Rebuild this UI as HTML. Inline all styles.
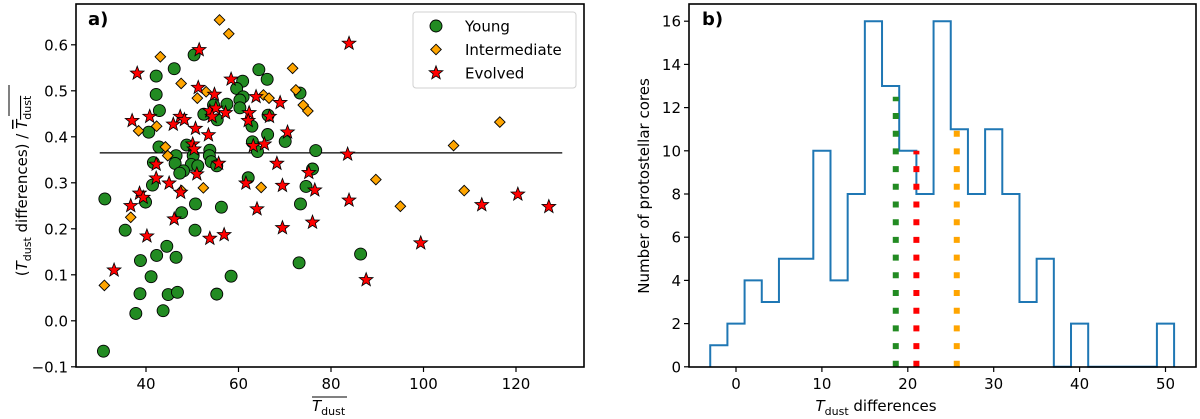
<!DOCTYPE html>
<html><head><meta charset="utf-8">
<style>
html,body{margin:0;padding:0;background:#fff;}
svg{display:block;font-family:"DejaVu Sans","Liberation Sans",sans-serif;}
</style></head>
<body>
<svg id="chart" width="1200" height="419" viewBox="0 0 1200 419" xmlns="http://www.w3.org/2000/svg">
<g id="pa"></g>
<g id="pb"></g>
</svg>
<script>
// ---------- Panel a data ----------
const youngX = [50.4,46.1,64.4,66.2,42.2,60.9,59.6,42.2,61.0,60.3,60.3,57.5,54.6,52.5,55.4,42.9,40.6,62.9,66.4,73.3,66.3,70.1,63.0,64.1,76.7,42.8,48.8,50.2,53.8,53.7,54.1,55.3,46.5,46.3,49.8,51.2,41.6,48.1,47.3,76.0,62.1,41.4,74.6,31.1,39.9,50.7,56.3,73.4,47.7,35.5,50.6,44.5,42.3,46.5,38.8,41.1,58.4,73.1,38.7,44.8,46.8,55.3,37.8,43.7,30.8,86.4];
const youngY = [0.578,0.548,0.546,0.525,0.532,0.521,0.505,0.492,0.487,0.480,0.463,0.471,0.469,0.449,0.437,0.457,0.410,0.423,0.447,0.495,0.405,0.390,0.389,0.368,0.370,0.378,0.382,0.359,0.371,0.359,0.346,0.337,0.359,0.342,0.340,0.337,0.344,0.326,0.321,0.330,0.311,0.295,0.292,0.265,0.258,0.254,0.247,0.254,0.235,0.197,0.197,0.162,0.142,0.138,0.131,0.096,0.097,0.126,0.059,0.057,0.062,0.058,0.016,0.022,-0.066,0.145];
const interX = [55.9,57.9,43.1,47.6,53.0,51.1,65.4,66.6,71.7,72.4,74.0,75.0,38.4,42.3,44.2,44.7,52.4,64.9,116.5,106.5,89.7,95.0,108.8,47.7,36.7,31.0];
const interY = [0.654,0.624,0.574,0.516,0.498,0.484,0.491,0.484,0.549,0.502,0.469,0.456,0.413,0.423,0.378,0.359,0.289,0.290,0.432,0.381,0.307,0.249,0.283,0.283,0.225,0.077];
const evolvedX = [51.5,38.1,51.3,54.8,58.4,63.8,69.0,37.0,40.8,47.4,48.3,45.9,53.8,55.1,54.3,57.2,62.3,62.1,66.7,50.7,53.5,70.6,50.1,50.4,63.2,65.6,55.7,42.2,68.3,75.2,51.0,42.2,45.0,47.5,61.6,69.5,76.5,38.6,39.4,83.9,83.6,83.9,112.6,120.4,127.1,99.4,87.6,36.7,46.1,40.2,53.8,56.9,64.0,69.5,76.0,33.1];
const evolvedY = [0.589,0.538,0.507,0.492,0.525,0.487,0.474,0.435,0.444,0.444,0.437,0.427,0.456,0.462,0.444,0.452,0.452,0.435,0.444,0.418,0.404,0.410,0.384,0.373,0.380,0.384,0.342,0.340,0.342,0.322,0.319,0.310,0.299,0.279,0.299,0.294,0.284,0.277,0.268,0.603,0.362,0.262,0.252,0.275,0.248,0.169,0.089,0.250,0.221,0.184,0.179,0.187,0.243,0.202,0.214,0.110];
const meanLineY = 0.365;
const aXTicks = [40,60,80,100,120];
const aYTicks = [-0.1,0.0,0.1,0.2,0.3,0.4,0.5,0.6];

// ---------- Panel b data ----------
const binEdges = [-3,-1,1,3,5,7,9,11,13,15,17,19,21,23,25,27,29,31,33,35,37,39,41,43,45,47,49,51];
const binCounts = [1,2,4,3,5,5,10,4,8,16,13,10,8,16,11,8,11,8,3,5,0,2,0,0,0,0,2];
const medianX = [18.6,21.0,25.7];
const medianTop = [12.5,10,11];
const medianNames = ['young-median-line','evolved-median-line','intermediate-median-line'];
const medianColors = ['#228b22','#ff0000','#ffa500'];
const bXTicks = [0,10,20,30,40,50];
const bYTicks = [0,2,4,6,8,10,12,14,16];

const NS = 'http://www.w3.org/2000/svg';
function mk(parent, tag, attrs){const e=document.createElementNS(NS,tag);for(const k in attrs)e.setAttribute(k,attrs[k]);parent.appendChild(e);return e;}

// ===== Panel A =====
const A={l:76,r:584,t:4,b:367};
const ax = v => -39 + 4.625*v;
const ay = v => 320.8 - 460*v;
const pa = document.getElementById('pa');

// Ticks
aXTicks.forEach(v=>{
  const x=ax(v);
  const t=mk(pa,'line',{x1:x,x2:x,y1:A.b,y2:A.b+5,stroke:'#000','stroke-width':1.2});
  
  
  const l=mk(pa,'text',{x:x,y:A.b+22,'text-anchor':'middle','font-size':15});
  l.textContent=v;
  
  
});
aYTicks.forEach(v=>{
  const y=ay(v);
  const t=mk(pa,'line',{x1:A.l-5,x2:A.l,y1:y,y2:y,stroke:'#000','stroke-width':1.2});
  
  
  const l=mk(pa,'text',{x:A.l-8,y:y+5.5,'text-anchor':'end','font-size':15});
  l.textContent=(v<0?'\u2212':'')+Math.abs(v).toFixed(1);
  
  
});

// mean line
{
  const ml=mk(pa,'line',{x1:ax(30),x2:ax(130),y1:ay(meanLineY),y2:ay(meanLineY),stroke:'#000','stroke-width':1.3});
  
  
}

function circle(g,x,y){return mk(g,'circle',{cx:x,cy:y,r:6,fill:'#228b22',stroke:'#000','stroke-width':0.9});}
function diamond(g,x,y){const s=5.3;return mk(g,'polygon',{points:`${x},${y-s} ${x+s},${y} ${x},${y+s} ${x-s},${y}`,fill:'#ffa500',stroke:'#000','stroke-width':0.9});}
function star(g,x,y){let p=[];for(let i=0;i<10;i++){const r=i%2?3:7.2;const a=-Math.PI/2+i*Math.PI/5;p.push((x+r*Math.cos(a)).toFixed(2)+','+(y+r*Math.sin(a)).toFixed(2));}return mk(g,'polygon',{points:p.join(' '),fill:'#ff0000',stroke:'#000','stroke-width':0.8});}

const gY=mk(pa,'g',{});


youngX.forEach((v,i)=>{const c=circle(gY,ax(v),ay(youngY[i]));
  
  });
const gI=mk(pa,'g',{});


interX.forEach((v,i)=>{const c=diamond(gI,ax(v),ay(interY[i]));
  
  });
const gE=mk(pa,'g',{});


evolvedX.forEach((v,i)=>{const c=star(gE,ax(v),ay(evolvedY[i]));
  
  });

// frame
{
  const f=mk(pa,'rect',{x:A.l,y:A.t,width:A.r-A.l,height:A.b-A.t,fill:'none',stroke:'#000','stroke-width':1.6});
  
  
  const lab=mk(pa,'text',{x:88,y:25,'font-size':18,'font-weight':'bold'});
  lab.textContent='a)';
  
  
}
// legend
{
  const lg=mk(pa,'g',{});
  
  
  mk(lg,'rect',{x:413,y:12,width:163,height:76,rx:3,fill:'#fff',stroke:'#ccc','stroke-width':1,opacity:0.9});
  const names=['Young','Intermediate','Evolved'];
  const ys=[26,49.5,73];
  const fns=[circle,diamond,star];
  names.forEach((n,i)=>{
    const e=mk(lg,'g',{});
    
    
    fns[i](e,436,ys[i]);
    const t=mk(e,'text',{x:465,y:ys[i]+5.5,'font-size':15});
    t.textContent=n;
  });
}
// axis labels
{
  const yl=mk(pa,'text',{transform:'translate(27,186) rotate(-90)','text-anchor':'middle','font-size':15});
  
  
  yl.innerHTML='(<tspan font-style="italic">T</tspan><tspan font-size="11" dy="4">dust</tspan><tspan dy="-4"> differences) / </tspan><tspan font-style="italic" text-decoration="overline">T</tspan><tspan font-size="11" dy="4" text-decoration="overline">dust</tspan>';
  mk(pa,'line',{x1:9,x2:9,y1:85,y2:116,stroke:'#000','stroke-width':1});
  const xl=mk(pa,'text',{x:312,y:411,'font-size':15});
  
  
  xl.innerHTML='<tspan font-style="italic">T</tspan><tspan font-size="11" dy="4">dust</tspan>';
  mk(pa,'line',{x1:312,x2:347,y1:397,y2:397,stroke:'#000','stroke-width':1});
}

// ===== Panel B =====
const B={l:689,r:1196,t:4,b:367};
const bx = v => 736 + 8.59*v;
const by = v => 366.8 - 21.6*v;
const pb=document.getElementById('pb');
bXTicks.forEach(v=>{
  const x=bx(v);
  const t=mk(pb,'line',{x1:x,x2:x,y1:B.b,y2:B.b+5,stroke:'#000','stroke-width':1.2});
  
  
  const l=mk(pb,'text',{x:x,y:B.b+22,'text-anchor':'middle','font-size':15});
  l.textContent=v;
  
  
});
bYTicks.forEach(v=>{
  const y=by(v);
  const t=mk(pb,'line',{x1:B.l-5,x2:B.l,y1:y,y2:y,stroke:'#000','stroke-width':1.2});
  
  
  const l=mk(pb,'text',{x:B.l-8,y:y+5.5,'text-anchor':'end','font-size':15});
  l.textContent=v;
  
  
});
// step histogram
{
  let d='M'+bx(binEdges[0])+','+by(0);
  binCounts.forEach((c,i)=>{d+=' L'+bx(binEdges[i])+','+by(c)+' L'+bx(binEdges[i+1])+','+by(c);});
  d+=' L'+bx(binEdges[binEdges.length-1])+','+by(0);
  const h=mk(pb,'path',{d:d,fill:'none',stroke:'#1f77b4','stroke-width':2});
  
  
}
medianX.forEach((v,i)=>{
  const l=mk(pb,'line',{x1:bx(v),x2:bx(v),y1:by(0),y2:by(medianTop[i]),stroke:medianColors[i],'stroke-width':6,'stroke-dasharray':'6 11.7'});
  
  
});
{
  const f=mk(pb,'rect',{x:B.l,y:B.t,width:B.r-B.l,height:B.b-B.t,fill:'none',stroke:'#000','stroke-width':1.6});
  
  
  const lab=mk(pb,'text',{x:702,y:25,'font-size':18,'font-weight':'bold'});
  lab.textContent='b)';
  
  
  const yl=mk(pb,'text',{transform:'translate(649,186) rotate(-90)','text-anchor':'middle','font-size':15});
  yl.textContent='Number of protostellar cores';
  
  
  const xl=mk(pb,'text',{x:876,y:411,'text-anchor':'middle','font-size':15});
  xl.innerHTML='<tspan font-style="italic">T</tspan><tspan font-size="11" dy="4">dust</tspan><tspan dy="-4"> differences</tspan>';
  
  
}
</script>
</body></html>
